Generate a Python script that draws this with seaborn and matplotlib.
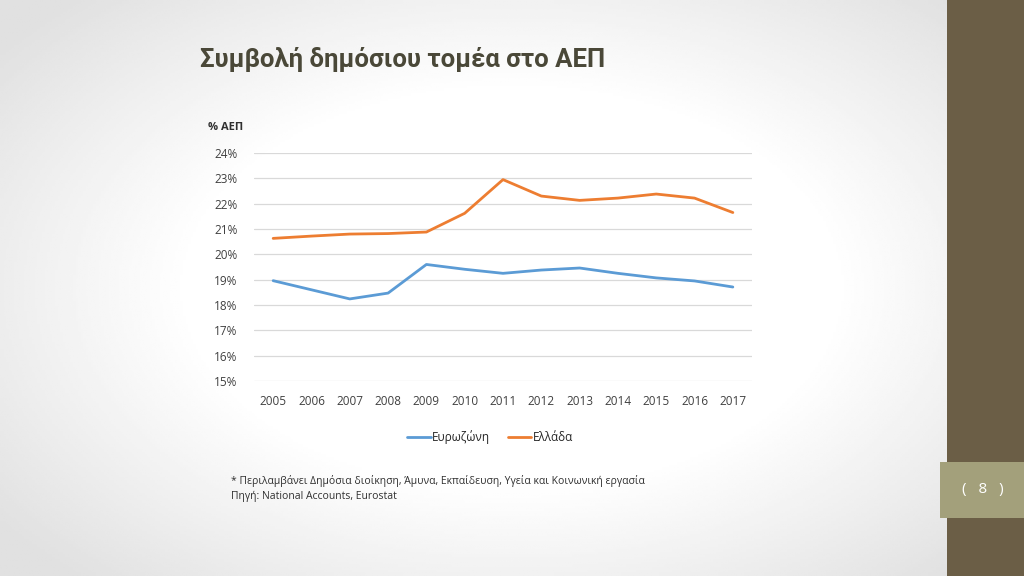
import numpy as np
import pandas as pd
import matplotlib
matplotlib.use('Agg')
import matplotlib.pyplot as plt
import seaborn as sns
from matplotlib.patches import Rectangle

# data (% of GDP)
years = [2005, 2006, 2007, 2008, 2009, 2010, 2011, 2012, 2013, 2014, 2015, 2016, 2017]
eurozone = [18.96, 18.60, 18.24, 18.47, 19.60, 19.41, 19.25, 19.38, 19.46, 19.25, 19.07, 18.95, 18.71]
greece = [20.63, 20.72, 20.80, 20.82, 20.88, 21.62, 22.95, 22.30, 22.13, 22.22, 22.38, 22.22, 21.65]
series_names = ['Ευρωζώνη', 'Ελλάδα']
y_ticks = [15, 16, 17, 18, 19, 20, 21, 22, 23, 24]

df = pd.DataFrame({'year': years, series_names[0]: eurozone, series_names[1]: greece})
long_df = df.melt(id_vars='year', var_name='series', value_name='value')

sns.set_style('white')
plt.rcParams['font.family'] = ['Open Sans', 'DejaVu Sans']

fig = plt.figure(figsize=(10.24, 5.76), dpi=100)

# slide background: white centre fading to light grey towards the edges
bg = fig.add_axes([0, 0, 1, 1], zorder=-10)
xx, yy = np.meshgrid(np.linspace(-1, 1, 400), np.linspace(-1, 1, 225))
r = np.sqrt((xx / 1.05) ** 2 + (yy / 1.15) ** 2)
shade = 1.0 - 0.12 * np.clip((r - 0.6) / 0.6, 0, 1)
bg.imshow(shade, cmap='gray', vmin=0, vmax=1, aspect='auto', extent=[0, 1, 0, 1])
bg.set_axis_off()

# right hand decoration bar with page number
fig.patches.append(Rectangle((947 / 1024, 0), 77 / 1024, 1, transform=fig.transFigure,
                             facecolor='#6b5e46', edgecolor='none', zorder=-5))
fig.patches.append(Rectangle((940 / 1024, 1 - 518 / 576), 84 / 1024, 56 / 576,
                             transform=fig.transFigure, facecolor='#a3a07b',
                             edgecolor='none', zorder=-4))
fig.text(983 / 1024, 1 - 489 / 576, '(   8   )', color='white', fontsize=11,
         ha='center', va='center')

# title
fig.text(200 / 1024, 1 - 60 / 576, 'Συμβολή δημόσιου τομέα στο ΑΕΠ',
         fontsize=18.5, fontweight='bold', color='#4a4838', ha='left', va='center',
         family=['Roboto', 'DejaVu Sans'])

ax = fig.add_axes([254 / 1024, 1 - 381 / 576, 498 / 1024, 228 / 576])
sns.lineplot(data=long_df, x='year', y='value', hue='series', ax=ax,
             palette=['#5b9bd5', '#ed7d31'], linewidth=2.0, legend=False)

ax.set_xlim(2004.5, 2017.5)
ax.set_ylim(15, 24)
ax.set_yticks(y_ticks)
ax.set_yticklabels([f'{v}%' for v in y_ticks])
ax.set_xticks(years)
ax.set_xticklabels([str(y) for y in years])
ax.tick_params(axis='both', length=0, labelsize=8.5, colors='#404040')
ax.tick_params(axis='x', pad=10)
ax.tick_params(axis='y', pad=12)
ax.grid(axis='y', color='#d9d9d9', linewidth=0.9)
ax.set_xlabel('')
ax.set_ylabel('')
ax.patch.set_alpha(0)
for s in ax.spines.values():
    s.set_visible(False)

fig.text(226 / 1024, 1 - 128 / 576, '% ΑΕΠ', fontsize=8, fontweight='bold',
         color='#303030', ha='center', va='center')

# legend
handles = [plt.Line2D([], [], color='#5b9bd5', lw=2.0),
           plt.Line2D([], [], color='#ed7d31', lw=2.0)]
fig.legend(handles, series_names, loc='center', bbox_to_anchor=(490 / 1024, 1 - 437 / 576),
           ncol=2, frameon=False, fontsize=8.5, handlelength=2, handletextpad=0.1,
           columnspacing=1.5)

fig.text(231 / 1024, 1 - 481 / 576,
         '* Περιλαμβάνει Δημόσια διοίκηση, Άμυνα, Εκπαίδευση, Υγεία και Κοινωνική εργασία',
         fontsize=7.5, color='#303030', ha='left', va='center')
fig.text(231 / 1024, 1 - 496 / 576, 'Πηγή: National Accounts, Eurostat',
         fontsize=7.5, color='#303030', ha='left', va='center')

fig.savefig('out.png', dpi=100)
plt.close(fig)
